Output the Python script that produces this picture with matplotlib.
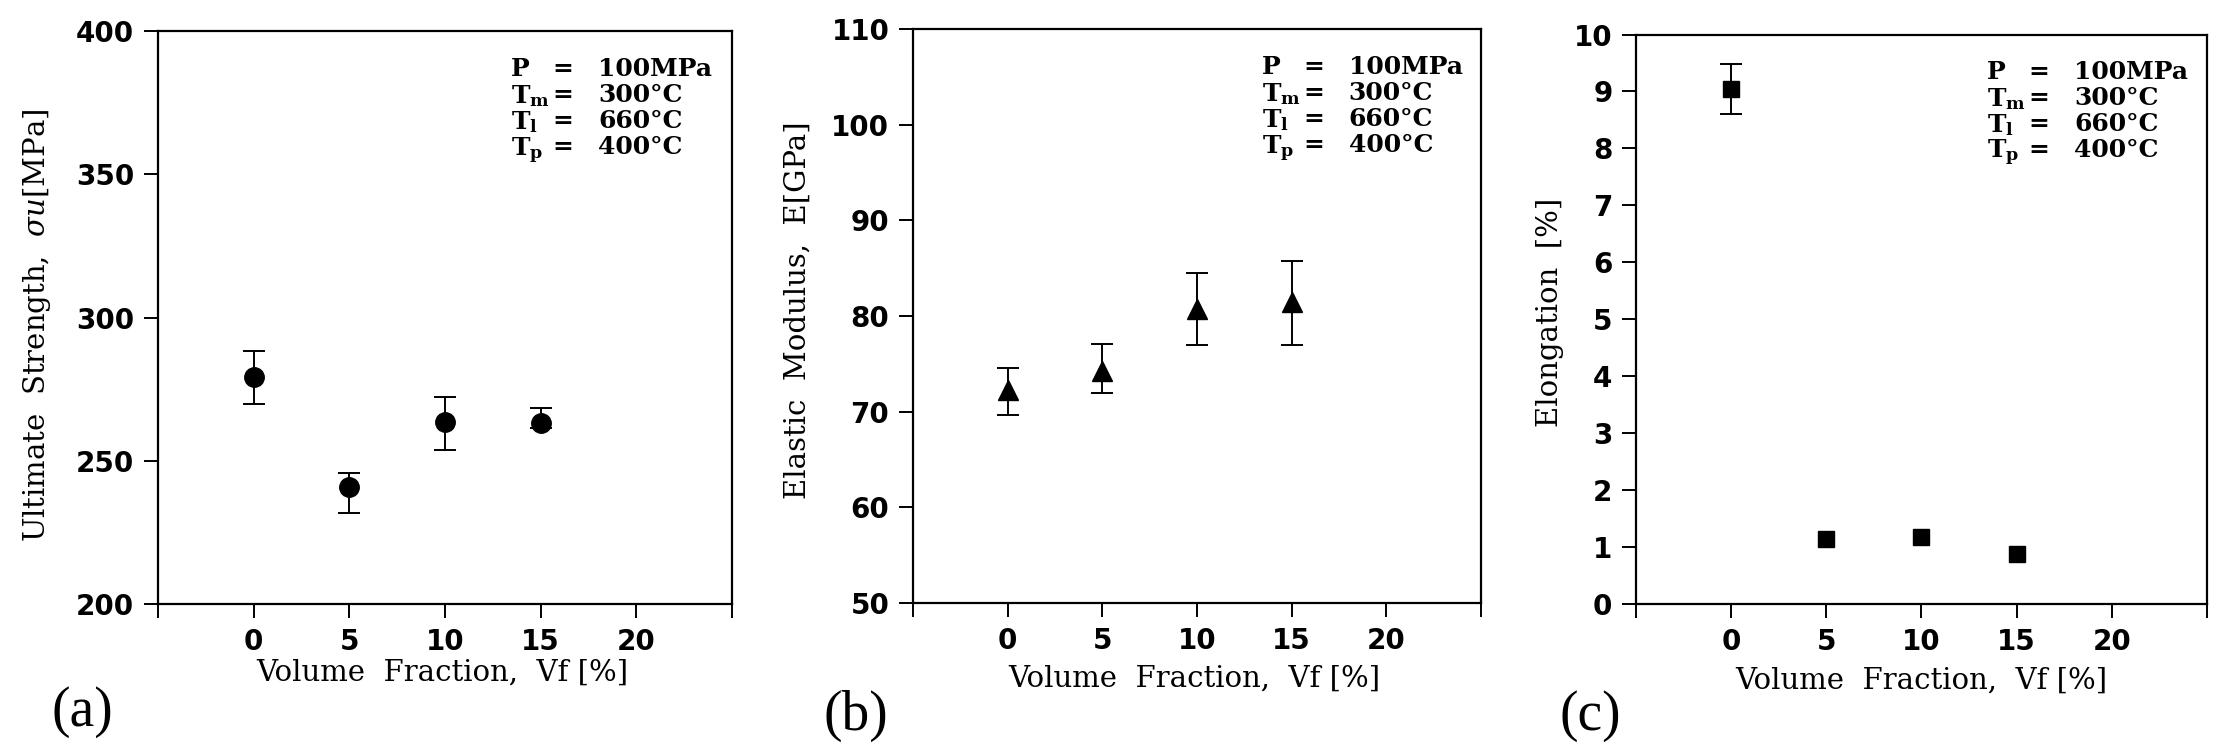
import numpy as np
import matplotlib
matplotlib.use("Agg")
import matplotlib.pyplot as plt

# data
vf = [0, 5, 10, 15]

strength = [279.3, 240.9, 263.5, 263.1]
strength_lo = [9.5, 9.0, 9.8, 1.5]
strength_hi = [9.1, 4.8, 8.7, 5.5]

modulus = [72.3, 74.3, 80.7, 81.5]
modulus_lo = [2.6, 2.3, 3.7, 4.5]
modulus_hi = [2.3, 2.8, 3.8, 4.2]

elong = [9.05, 1.14, 1.18, 0.87]
elong_lo = [0.44, 0.0, 0.0, 0.0]
elong_hi = [0.44, 0.0, 0.0, 0.0]

cond_names = ["P", r"T$_{\mathbf{m}}$", r"T$_{\mathbf{l}}$", r"T$_{\mathbf{p}}$"]
cond_values = ["100MPa", "300°C", "660°C", "400°C"]

x_ticks = [-5, 0, 5, 10, 15, 20, 25]
x_labels = ["", "0", "5", "10", "15", "20", ""]

plt.rcParams["mathtext.fontset"] = "dejavuserif"

fig = plt.figure(figsize=(22.18, 7.42), dpi=100)

panels = [
    dict(rect=[0.0712, 0.186, 0.2588, 0.772], y=strength, lo=strength_lo, hi=strength_hi,
         marker="o", ms=14, ylim=(200, 400), yticks=np.arange(200, 401, 50),
         ylabel=r"Ultimate  Strength,  $\sigma u$[MPa]", ylab_xy=(-0.211, 0.487),
         xlab_xy=(0.495, -0.119), tag="(a)", tagx=52, tagy=0.022),
    dict(rect=[0.4116, 0.1873, 0.2561, 0.7736], y=modulus, lo=modulus_lo, hi=modulus_hi,
         marker="^", ms=14, ylim=(50, 110), yticks=np.arange(50, 111, 10),
         ylabel="Elastic  Modulus,  E[GPa]", ylab_xy=(-0.2025, 0.51),
         xlab_xy=(0.496, -0.131), tag="(b)", tagx=824, tagy=0.016),
    dict(rect=[0.7376, 0.186, 0.2574, 0.7675], y=elong, lo=elong_lo, hi=elong_hi,
         marker="s", ms=12, ylim=(0, 10), yticks=np.arange(0, 11, 1),
         ylabel="Elongation  [%]", ylab_xy=(-0.1506, 0.512),
         xlab_xy=(0.5, -0.135), tag="(c)", tagx=1560, tagy=0.016),
]

for p in panels:
    ax = fig.add_axes(p["rect"])
    lo = np.array(p["lo"])
    hi = np.array(p["hi"])
    has_err = (lo + hi) > 0
    xs = np.array(vf)
    ys = np.array(p["y"])
    ax.errorbar(xs[has_err], ys[has_err], yerr=[lo[has_err], hi[has_err]], fmt="none",
                ecolor="black", elinewidth=1.4, capsize=8, capthick=1.4)
    ax.plot(xs, ys, linestyle="none", marker=p["marker"], markersize=p["ms"],
            color="black")
    ax.set_xlim(-5, 25)
    ax.set_ylim(*p["ylim"])
    ax.set_xticks(x_ticks)
    ax.set_xticklabels(x_labels)
    ax.set_yticks(p["yticks"])
    ax.tick_params(direction="out", length=10, width=1.4, labelsize=20, pad=7)
    for lab in ax.get_xticklabels() + ax.get_yticklabels():
        lab.set_fontweight("bold")
        lab.set_family("DejaVu Sans")
    for s in ax.spines.values():
        s.set_linewidth(1.6)
    ax.set_xlabel("Volume  Fraction,  Vf [%]", family="DejaVu Serif", fontsize=21, va="center")
    ax.xaxis.set_label_coords(*p["xlab_xy"])
    ax.set_ylabel(p["ylabel"], family="DejaVu Serif", fontsize=21, va="center")
    ax.yaxis.set_label_coords(*p["ylab_xy"])

    # condition box
    for i in range(4):
        yy = 0.955 - i * 0.0455
        ax.text(0.615, yy, cond_names[i], transform=ax.transAxes, family="DejaVu Serif",
                fontweight="bold", fontsize=18, va="top", ha="left")
        ax.text(0.705, yy, "=", transform=ax.transAxes, family="DejaVu Serif",
                fontweight="bold", fontsize=18, va="top", ha="center")
        ax.text(0.767, yy, cond_values[i], transform=ax.transAxes, family="DejaVu Serif",
                fontweight="bold", fontsize=18, va="top", ha="left")

    fig.text(p["tagx"] / 2218, p["tagy"], p["tag"], family="Liberation Serif",
             fontsize=40, va="baseline", ha="left")

fig.savefig("out.png", dpi=100)
